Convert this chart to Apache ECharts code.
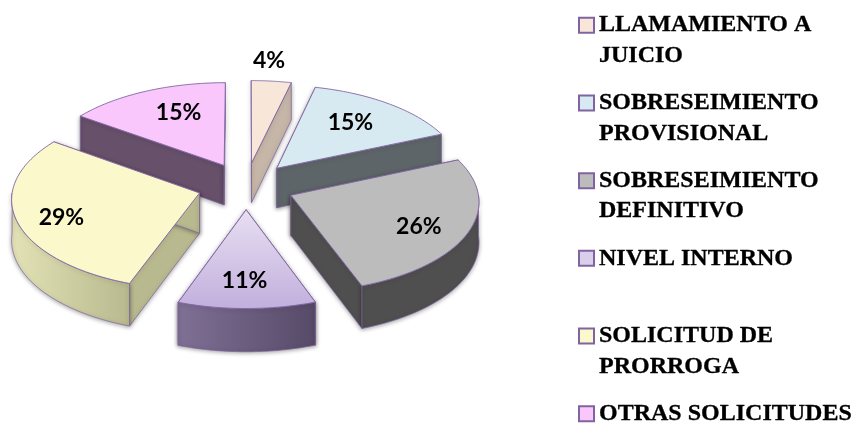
<!DOCTYPE html>
<html><head><meta charset="utf-8">
<style>html,body{margin:0;padding:0;background:#fff}#c{width:855px;height:423px}</style>
<script src="https://cdn.jsdelivr.net/npm/echarts@6/dist/echarts.min.js"></script>
</head><body><div id="c"></div>
<script>
const categories = ['LLAMAMIENTO A\nJUICIO','SOBRESEIMIENTO\nPROVISIONAL','SOBRESEIMIENTO\nDEFINITIVO','NIVEL INTERNO','SOLICITUD DE\nPRORROGA','OTRAS SOLICITUDES'];
const values = [3.7,14.8,25.9,11.1,29.4,15.1];
const topColors = [['#f8e7d8','#f8e7d8'],['#d8eaf1','#d8eaf1'],['#bcbcbc','#bcbcbc'],['#e7dff2','#c2afdd'],['#fbf9cb','#fbf9cb'],['#f9c7fb','#f9c7fb']];
const wallColors = [['#c6b6a7','#c6b6a7'],['#5e6569','#5e6569'],['#4f4f4f','#4f4f4f'],['#7f7095','#574a68'],['#e2e2b6','#b9b98f'],['#67506a','#67506a']];
const legendColors = ['#f8e7d8','#d8eaf1','#bcbcbc','#d9cfeb','#fbf9cb','#f9c7fb'];
const labelNudge = [[-6,-5],[-8,1],[1,5],[-2,1],[-7,5],[12,1]];

const cx=246, cy=186, a=186.5, b=90, k=0.059, explode=0.26, depth=40, edge='rgba(128,100,162,0.9)';
const total = values.reduce((s,x)=>s+x,0);
const proj=(u,v,dz)=>{const w=1/(1-k*v);return [cx+a*u*w, cy+b*v*w+dz*w];};
let acc=0;
const slices = values.map((val,i)=>{
  const s=acc/total*2*Math.PI; acc+=val; const t=acc/total*2*Math.PI; const m=(s+t)/2;
  return {i,s,t,m,ou:explode*Math.sin(m),ov:-explode*Math.cos(m)};
});
function linear(c,horizontal){return {type:'linear',x:0,y:0,x2:horizontal?1:0,y2:horizontal?0:1,colorStops:[{offset:0,color:c[0]},{offset:1,color:c[1]}]};}
function renderSlice(sl){
  const at=(th,r,dz)=>proj(sl.ou+r*Math.sin(th),sl.ov-r*Math.cos(th),dz||0);
  const arc=(from,to,dz)=>{const n=72,p=[];for(let j=0;j<=n;j++)p.push(at(from+(to-from)*j/n,1,dz));return p;};
  const top=[at(sl.s,0)].concat(arc(sl.s,sl.t));
  const children=[];
  const wall=(pts,fill)=>children.push({type:'polygon',shape:{points:pts},style:{fill,stroke:edge,lineWidth:0.8,shadowBlur:4,shadowColor:'rgba(0,0,0,0.35)',shadowOffsetY:1}});
  const wc=wallColors[sl.i];
  [sl.s,sl.t].forEach(th=>wall([at(th,0),at(th,1),at(th,1,depth),at(th,0,depth)],wc[1]));
  const from=Math.max(sl.s,Math.PI/2), to=Math.min(sl.t,1.5*Math.PI);
  if(to>from) wall(arc(from,to).concat(arc(from,to,depth).reverse()),linear(wc,true));
  children.push({type:'polygon',shape:{points:top},style:{fill:linear(topColors[sl.i],false),stroke:edge,lineWidth:1}});
  const pct=values[sl.i]/total*100;
  const lp=at(sl.m,pct<5?1.2:0.72);
  const nudge=labelNudge[sl.i];
  children.push({type:'text',style:{text:Math.round(values[sl.i])+'%',x:lp[0]+nudge[0],y:lp[1]+nudge[1],align:'center',verticalAlign:'middle',font:'bold 23px Lato',fill:'#000'}});
  return {type:'group',children};
}
const order = slices.slice().sort((p,q)=>p.ov-q.ov);
const chart = echarts.init(document.getElementById('c'),null,{renderer:'canvas'});
chart.setOption({
  animation:false,
  backgroundColor:'#fff',
  legend:{
    orient:'vertical',left:578,top:-20.5,height:700,padding:0,itemWidth:15,itemHeight:15,itemGap:-13.8,icon:'rect',selectedMode:false,
    data:categories.map((name,i)=>({name,itemStyle:{color:legendColors[i],borderColor:'#8064a2',borderWidth:2}})),
    formatter:n=>n.indexOf('\n')>=0?'\n'+n:'\n'+n+'\n',
    textStyle:{fontFamily:'Liberation Serif',fontSize:24,fontWeight:'bold',color:'#000',lineHeight:30.5,textBorderColor:'#000',textBorderWidth:0.3}
  },
  series:order.map(sl=>({type:'custom',coordinateSystem:'none',name:categories[sl.i],silent:true,
    data:[{name:categories[sl.i],value:values[sl.i]}],renderItem:()=>renderSlice(sl)}))
});
</script></body></html>
